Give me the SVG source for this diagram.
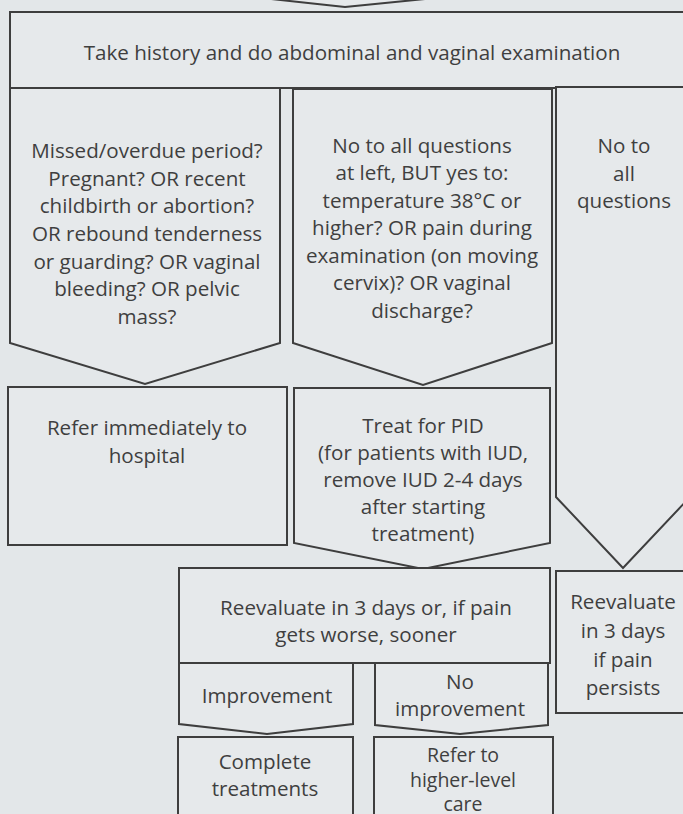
<svg xmlns="http://www.w3.org/2000/svg" width="683" height="814" viewBox="0 0 683 814">
<style>
.s{fill:#e6e9eb;stroke:#3e3e3e;stroke-width:2;stroke-linejoin:miter}
.t{font-family:"Open Sans","Liberation Sans",Arial,sans-serif;font-size:20.6px;fill:#3f3f3f;text-anchor:middle}
.sm{font-size:19.5px}
</style>
<rect x="0" y="0" width="683" height="814" fill="#e3e7e9"/>
<g id="prev-tip"><polyline class="s" points="262,-2 345,7 435,-2"/></g>
<g id="n-history">
<rect class="s" x="10" y="12" width="690" height="76"/>
<text class="t" x="352" y="60">Take history and do abdominal and vaginal examination</text>
</g>
<g id="n-danger">
<polygon class="s" points="10,88 280,88 280,343 145,384 10,343"/>
<text class="t" x="147" y="158">Missed/overdue period?</text>
<text class="t" x="147" y="186">Pregnant? OR recent</text>
<text class="t" x="147" y="213">childbirth or abortion?</text>
<text class="t" x="147" y="241">OR rebound tenderness</text>
<text class="t" x="147" y="269">or guarding? OR vaginal</text>
<text class="t" x="147" y="296">bleeding? OR pelvic</text>
<text class="t" x="147" y="324">mass?</text>
</g>
<g id="n-pid-signs">
<polygon class="s" points="293,89 552,89 552,343 423,385 293,343"/>
<text class="t" x="422" y="153">No to all questions</text>
<text class="t" x="422" y="180">at left, BUT yes to:</text>
<text class="t" x="422" y="208">temperature 38°C or</text>
<text class="t" x="422" y="235">higher? OR pain during</text>
<text class="t" x="422" y="263">examination (on moving</text>
<text class="t" x="422" y="290">cervix)? OR vaginal</text>
<text class="t" x="422" y="318">discharge?</text>
</g>
<g id="n-no-all">
<polygon class="s" points="556,87 690,87 690,497 623,568 556,497"/>
<text class="t" x="624" y="153">No to</text>
<text class="t" x="624" y="181">all</text>
<text class="t" x="624" y="208">questions</text>
</g>
<g id="n-refer-hospital">
<rect class="s" x="8" y="387" width="279" height="158"/>
<text class="t" x="147" y="435">Refer immediately to</text>
<text class="t" x="147" y="463">hospital</text>
</g>
<g id="n-treat">
<polygon class="s" points="294,388 550,388 550,543 423,569 294,543"/>
<text class="t" x="423" y="433">Treat for PID</text>
<text class="t" x="423" y="460">(for patients with IUD,</text>
<text class="t" x="423" y="487">remove IUD 2-4 days</text>
<text class="t" x="423" y="514">after starting</text>
<text class="t" x="423" y="541">treatment)</text>
</g>
<g id="n-reevaluate">
<rect class="s" x="179" y="568" width="371" height="95"/>
<text class="t" x="366" y="615">Reevaluate in 3 days or, if pain</text>
<text class="t" x="366" y="642">gets worse, sooner</text>
</g>
<g id="n-reevaluate-right">
<rect class="s" x="556" y="571" width="134" height="142"/>
<text class="t" x="623" y="609">Reevaluate</text>
<text class="t" x="623" y="638">in 3 days</text>
<text class="t" x="623" y="667">if pain</text>
<text class="t" x="623" y="695">persists</text>
</g>
<g id="n-improvement">
<polygon class="s" points="179,663 353,663 353,724 267,734 179,724"/>
<text class="t" x="267" y="703">Improvement</text>
</g>
<g id="n-no-improvement">
<polygon class="s" points="375,663 548,663 548,725 460,734 375,725"/>
<text class="t" x="460" y="689">No</text>
<text class="t" x="460" y="716">improvement</text>
</g>
<g id="n-complete">
<rect class="s" x="178" y="737" width="175" height="90"/>
<text class="t" x="265" y="769">Complete</text>
<text class="t" x="265" y="796">treatments</text>
</g>
<g id="n-refer-higher">
<rect class="s" x="374" y="737" width="179" height="90"/>
<text class="t sm" x="463" y="762">Refer to</text>
<text class="t sm" x="463" y="787">higher-level</text>
<text class="t sm" x="463" y="811">care</text>
</g>
<g id="connectors"></g>
</svg>
